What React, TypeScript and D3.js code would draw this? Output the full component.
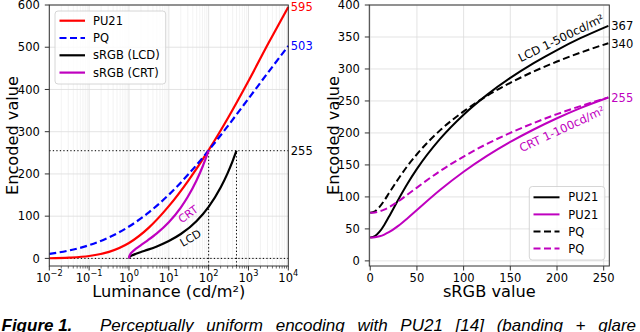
import React from 'react';
import * as d3 from 'd3';

// left panel: encoded value vs luminance (half-decade samples)
const lumSamples = [0.01, 0.0316, 0.1, 0.316, 1, 3.16, 10, 31.6, 100, 316, 1000, 3162, 10000];
const pu21Lum = [0.4, 1.8, 5.7, 15.5, 36.5, 72.9, 123.7, 185.6, 256.4, 334.9, 420.1, 509.3, 595.4];
const pqLum = [10.8, 18.8, 31.3, 49.8, 75.4, 109.0, 150.7, 200.0, 255.6, 315.7, 378.2, 441.2, 503];
const lcdLum = [1, 1.02, 1.1, 1.2, 1.5, 2, 3, 5, 10, 20, 50, 100, 200, 300, 400, 500];
const lcdCode = [0, 2.6, 5.3, 7.3, 11.0, 15.1, 20.7, 28.4, 41.1, 57.7, 88.8, 122.2, 167.9, 202.0, 230.4, 255];
const crtLum = [1, 1.02, 1.05, 1.1, 1.2, 1.5, 2, 3, 5, 10, 20, 30, 50, 70, 100];
const crtCode = [0, 5.3, 8.1, 11.1, 15.2, 23.0, 31.6, 43.3, 59.3, 85.7, 120.4, 145.9, 185.2, 216.4, 255];

// right panel: encoded value vs sRGB code value
const srgbCodes = [0, 5, 10, 15, 20, 30, 40, 50, 75, 100, 125, 150, 175, 200, 225, 255];
const pu21Lcd = [36.5, 38.7, 45.6, 56.2, 68.9, 95.7, 121.0, 143.8, 191.1, 228.6, 259.5, 286.0, 309.1, 329.6, 348.1, 367.5];
const pu21Crt = [36.5, 37.0, 38.5, 41.1, 44.8, 54.7, 66.7, 79.5, 111.1, 139.3, 164.1, 185.9, 205.4, 223.0, 238.9, 255.5];
const pqLcd = [75.4, 77.5, 84.4, 94.3, 105.6, 128.0, 148.6, 166.7, 204.4, 233.7, 258.0, 278.4, 296.1, 311.6, 325.5, 340.3];
const pqCrt = [75.4, 75.8, 77.4, 80.0, 83.7, 93.0, 103.7, 114.6, 140.6, 163.1, 182.9, 200.1, 215.5, 229.4, 241.9, 255.5];

// ticks
const lumTicks = [0.01, 0.1, 1, 10, 100, 1000, 10000];
const lumTickExp = ['\u22122', '\u22121', '0', '1', '2', '3', '4'];
const leftYTicks = [0, 100, 200, 300, 400, 500, 600];
const rightYTicks = [0, 50, 100, 150, 200, 250, 300, 350, 400];
const srgbTicks = [0, 50, 100, 150, 200, 250];

const leftEndLabels = [
  { text: '595', value: 595, color: '#ff0000' },
  { text: '503', value: 503, color: '#0000ff' },
  { text: '255', value: 255, color: '#000000' },
];
const rightEndLabels = [
  { text: '367', value: 367, color: '#000000' },
  { text: '340', value: 340, color: '#000000' },
  { text: '255', value: 255, color: '#bf00bf' },
];

const RED = '#ff0000';
const BLUE = '#0000ff';
const MAG = '#bf00bf';
const FONT = 'DejaVu Sans';
const GRID = '#dcdcdc';
const GRID_MINOR = '#eeeeee';
const SPINE = '#333333';
const DOT = '1.3 2.2';
const DASH = '7 3.5';

const top = 5;
const bottom = 266;

export default function App() {
  // left scales
  const xL = d3.scaleLog().domain([0.01, 10000]).range([49.3, 288.3]);
  const yL = d3.scaleLinear().domain([-18, 600]).range([bottom, top]);
  // right scales
  const xR = d3.scaleLinear().domain([-1, 256]).range([369.3, 609.3]);
  const yR = d3.scaleLinear().domain([-8, 400]).range([bottom, top]);

  const lumLine = (xs: number[], ys: number[]) =>
    d3.line<number>().x((_, i) => xL(xs[i])).y((d) => yL(d)).curve(d3.curveMonotoneX)(ys) || '';
  const srgbLine = (ys: number[]) =>
    d3.line<number>().x((_, i) => xR(srgbCodes[i])).y((d) => yR(d)).curve(d3.curveMonotoneX)(ys) || '';

  const minorLum: number[] = [];
  for (let e = -2; e < 4; e++) {
    for (let m = 2; m <= 9; m++) minorLum.push(m * Math.pow(10, e));
  }

  const [lx0, lx1] = xL.range();
  const [rx0, rx1] = xR.range();

  return (
    <svg width={640} height={332} style={{ position: 'absolute', left: 0, top: 0, background: '#fff' }}
      fontFamily={FONT}>
      <rect x={0} y={0} width={640} height={332} fill="#fff" />

      {/* ---------- left panel ---------- */}
      <g>
        {minorLum.map((v) => (
          <line key={'gm' + v} x1={xL(v)} x2={xL(v)} y1={top} y2={bottom} stroke={GRID_MINOR} strokeWidth={0.7} />
        ))}
        {lumTicks.map((v) => (
          <line key={'gx' + v} x1={xL(v)} x2={xL(v)} y1={top} y2={bottom} stroke={GRID} strokeWidth={0.8} />
        ))}
        {leftYTicks.map((v) => (
          <line key={'gy' + v} x1={lx0} x2={lx1} y1={yL(v)} y2={yL(v)} stroke={GRID} strokeWidth={0.8} />
        ))}

        {/* reference dotted lines */}
        <line x1={lx0} x2={lx1} y1={yL(255)} y2={yL(255)} stroke="#000" strokeWidth={1} strokeDasharray={DOT} />
        <line x1={lx0} x2={lx1} y1={yL(0)} y2={yL(0)} stroke="#000" strokeWidth={1} strokeDasharray={DOT} />
        <line x1={xL(100)} x2={xL(100)} y1={bottom} y2={yL(255)} stroke="#000" strokeWidth={1} strokeDasharray={DOT} />
        <line x1={xL(500)} x2={xL(500)} y1={bottom} y2={yL(255)} stroke="#000" strokeWidth={1} strokeDasharray={DOT} />

        <path d={lumLine(lumSamples, pu21Lum)} fill="none" stroke={RED} strokeWidth={2.2} />
        <path d={lumLine(lumSamples, pqLum)} fill="none" stroke={BLUE} strokeWidth={2.2} strokeDasharray={DASH} />
        <path d={lumLine(lcdLum, lcdCode)} fill="none" stroke="#000" strokeWidth={2.2} />
        <path d={lumLine(crtLum, crtCode)} fill="none" stroke={MAG} strokeWidth={2.2} />

        <rect x={lx0} y={top} width={lx1 - lx0} height={bottom - top} fill="none" stroke={SPINE} strokeWidth={1} />

        {/* x ticks */}
        {minorLum.map((v) => (
          <line key={'tm' + v} x1={xL(v)} x2={xL(v)} y1={bottom} y2={bottom + 2.5} stroke={SPINE} strokeWidth={0.7} />
        ))}
        {lumTicks.map((v, i) => (
          <g key={'tx' + v}>
            <line x1={xL(v)} x2={xL(v)} y1={bottom} y2={bottom + 4.5} stroke={SPINE} strokeWidth={1} />
            <text x={xL(v)} y={281.7} textAnchor="middle" fontSize={11.5} fill="#000">
              10<tspan dy={-5.6} fontSize={8.2}>{lumTickExp[i]}</tspan>
            </text>
          </g>
        ))}
        {leftYTicks.map((v) => (
          <g key={'ty' + v}>
            <line x1={lx0 - 4.5} x2={lx0} y1={yL(v)} y2={yL(v)} stroke={SPINE} strokeWidth={1} />
            <text x={lx0 - 9.5} y={yL(v)} dy="0.36em" textAnchor="end" fontSize={11.5} fill="#000">{v}</text>
          </g>
        ))}

        {leftEndLabels.map((d) => (
          <text key={'el' + d.text} x={lx1 + 2.5} y={yL(d.value)} dy="0.36em" fontSize={11.5} fill={d.color}>{d.text}</text>
        ))}

        <text x={188} y={214} dy="0.36em" textAnchor="middle" fontSize={11} fill={MAG}
          transform="rotate(-36 188 214)">CRT</text>
        <text x={190.5} y={238} dy="0.36em" textAnchor="middle" fontSize={11} fill="#000"
          transform="rotate(-30 190.5 238)">LCD</text>

        {/* legend */}
        <rect x={55} y={11} width={110.7} height={73} rx={3} fill="#fff" fillOpacity={0.8} stroke="#cccccc" strokeWidth={0.8} />
        {[
          { label: 'PU21', color: RED, dash: '' },
          { label: 'PQ', color: BLUE, dash: DASH },
          { label: 'sRGB (LCD)', color: '#000', dash: '' },
          { label: 'sRGB (CRT)', color: MAG, dash: '' },
        ].map((d, i) => {
          const y = 20.7 + i * 17.3;
          return (
            <g key={'lg' + d.label}>
              <line x1={59.5} x2={85} y1={y} y2={y} stroke={d.color} strokeWidth={2.2} strokeDasharray={d.dash || undefined} />
              <text x={93} y={y} dy="0.36em" fontSize={11.5} fill="#000">{d.label}</text>
            </g>
          );
        })}

        <text x={168.8} y={297} textAnchor="middle" fontSize={16.2} fill="#000">Luminance (cd/m²)</text>
        <text transform="translate(17.5 135.5) rotate(-90)" textAnchor="middle" fontSize={16.2} fill="#000">Encoded value</text>
      </g>

      {/* ---------- right panel ---------- */}
      <g>
        {srgbTicks.map((v) => (
          <line key={'rgx' + v} x1={xR(v)} x2={xR(v)} y1={top} y2={bottom} stroke={GRID} strokeWidth={0.8} />
        ))}
        {rightYTicks.map((v) => (
          <line key={'rgy' + v} x1={rx0} x2={rx1} y1={yR(v)} y2={yR(v)} stroke={GRID} strokeWidth={0.8} />
        ))}

        <path d={srgbLine(pu21Lcd)} fill="none" stroke="#000" strokeWidth={2} />
        <path d={srgbLine(pu21Crt)} fill="none" stroke={MAG} strokeWidth={2} />
        <path d={srgbLine(pqLcd)} fill="none" stroke="#000" strokeWidth={2} strokeDasharray={DASH} />
        <path d={srgbLine(pqCrt)} fill="none" stroke={MAG} strokeWidth={2} strokeDasharray={DASH} />

        <rect x={rx0} y={top} width={rx1 - rx0} height={bottom - top} fill="none" stroke={SPINE} strokeWidth={1} />

        {srgbTicks.map((v) => (
          <g key={'rtx' + v}>
            <line x1={xR(v)} x2={xR(v)} y1={bottom} y2={bottom + 4.5} stroke={SPINE} strokeWidth={1} />
            <text x={xR(v)} y={281.7} textAnchor="middle" fontSize={11.5} fill="#000">{v}</text>
          </g>
        ))}
        {rightYTicks.map((v) => (
          <g key={'rty' + v}>
            <line x1={rx0 - 4.5} x2={rx0} y1={yR(v)} y2={yR(v)} stroke={SPINE} strokeWidth={1} />
            <text x={rx0 - 9.5} y={yR(v)} dy="0.36em" textAnchor="end" fontSize={11.5} fill="#000">{v}</text>
          </g>
        ))}

        {rightEndLabels.map((d) => (
          <text key={'er' + d.text + d.color} x={rx1 + 2} y={yR(d.value)} dy="0.36em" fontSize={11.5} fill={d.color}>{d.text}</text>
        ))}

        <text x={561} y={38} dy="0.36em" textAnchor="middle" fontSize={11.5} fill="#000"
          transform="rotate(-26 561 38)">LCD 1-500cd/m²</text>
        <text x={562} y={129} dy="0.36em" textAnchor="middle" fontSize={11.5} fill={MAG}
          transform="rotate(-25 562 129)">CRT 1-100cd/m²</text>

        {/* legend */}
        <rect x={529.3} y={186.5} width={75.5} height={73.5} rx={3} fill="#fff" fillOpacity={0.8} stroke="#cccccc" strokeWidth={0.8} />
        {[
          { label: 'PU21', color: '#000', dash: '' },
          { label: 'PU21', color: MAG, dash: '' },
          { label: 'PQ', color: '#000', dash: DASH },
          { label: 'PQ', color: MAG, dash: DASH },
        ].map((d, i) => {
          const y = 197.3 + i * 17.1;
          return (
            <g key={'rl' + i}>
              <line x1={533.5} x2={559.5} y1={y} y2={y} stroke={d.color} strokeWidth={2} strokeDasharray={d.dash || undefined} />
              <text x={568.3} y={y} dy="0.36em" fontSize={11.5} fill="#000">{d.label}</text>
            </g>
          );
        })}

        <text x={489.3} y={296.5} textAnchor="middle" fontSize={16.2} fill="#000">sRGB value</text>
        <text transform="translate(338.5 135.5) rotate(-90)" textAnchor="middle" fontSize={16.2} fill="#000">Encoded value</text>
      </g>

      {/* caption (cut off at the bottom edge) */}
      <text x={1.5} y={331} fontFamily="Liberation Sans" fontStyle="italic" fontSize={17} fill="#000">
        <tspan fontWeight="bold">Figure 1.</tspan>
        <tspan x={100} wordSpacing={8}>Perceptually uniform encoding with PU21 [14] (banding + glare</tspan>
      </text>
    </svg>
  );
}
